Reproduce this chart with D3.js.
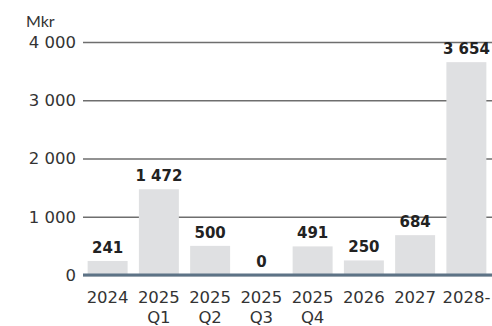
<!DOCTYPE html>
<html>
<head>
<meta charset="utf-8">
<script src="https://cdn.jsdelivr.net/npm/d3@7"></script>
<style>
  body { margin: 0; background: #fff; }
  svg { display: block; }
</style>
</head>
<body>
<div id="chart"></div>
<script>
// data
var periods = ["2024", "2025 Q1", "2025 Q2", "2025 Q3", "2025 Q4", "2026", "2027", "2028-"];
var values = [241, 1472, 500, 0, 491, 250, 684, 3654];
var yTicks = [0, 1000, 2000, 3000, 4000];
var unit = "Mkr";

var W = 492, H = 326;
var margin = {top: 42, bottom: 51, left: 82, right: 0};

var svg = d3.select("#chart").append("svg")
    .attr("width", W)
    .attr("height", H);

var x = d3.scaleBand()
    .domain(periods)
    .range([margin.left, W - margin.right])
    .paddingInner(0.22)
    .paddingOuter(0.11);

var y = d3.scaleLinear()
    .domain([0, 4000])
    .range([H - margin.bottom, margin.top]);

// space as thousands separator
var fmt = function(v) { return d3.format(",")(v).replace(/,/g, " "); };

// unit label
svg.append("text")
    .attr("x", 26)
    .attr("y", 27)
    .attr("font-family", "Lato, sans-serif")
    .attr("font-size", 16)
    .attr("fill", "#333")
    .text(unit);

// y axis with gridlines
var yAxis = svg.append("g")
    .attr("transform", "translate(" + (margin.left + 1) + ",0)")
    .call(d3.axisRight(y).tickValues(yTicks).tickSize(W - margin.left).tickFormat(fmt));
yAxis.select(".domain").remove();
yAxis.selectAll(".tick line")
    .attr("stroke", "#6e6e6e")
    .attr("stroke-width", 1.3);
yAxis.selectAll(".tick text")
    .attr("x", -7)
    .attr("text-anchor", "end")
    .attr("font-family", "'DejaVu Sans', sans-serif")
    .attr("font-size", 16.5)
    .attr("fill", "#333");

// bars
svg.selectAll("rect.bar")
    .data(values)
    .enter().append("rect")
    .attr("class", "bar")
    .attr("x", function(d, i) { return x(periods[i]); })
    .attr("width", x.bandwidth())
    .attr("y", function(d) { return y(d); })
    .attr("height", function(d) { return y(0) - y(d); })
    .attr("fill", "#dfe0e2");

// baseline
svg.append("line")
    .attr("x1", margin.left + 1)
    .attr("x2", W)
    .attr("y1", y(0))
    .attr("y2", y(0))
    .attr("stroke", "#5d7386")
    .attr("stroke-width", 3);

// value labels
svg.selectAll("text.val")
    .data(values)
    .enter().append("text")
    .attr("class", "val")
    .attr("x", function(d, i) { return x(periods[i]) + x.bandwidth() / 2; })
    .attr("y", function(d) { return y(d) - 8; })
    .attr("text-anchor", "middle")
    .attr("font-family", "'DejaVu Sans', sans-serif")
    .attr("font-weight", "bold")
    .attr("font-size", 15)
    .attr("fill", "#222")
    .text(fmt);

// x labels, two lines where needed
var xl = svg.selectAll("text.xl")
    .data(periods)
    .enter().append("text")
    .attr("class", "xl")
    .attr("x", function(d) { return x(d) + x.bandwidth() / 2; })
    .attr("y", 302.5)
    .attr("text-anchor", "middle")
    .attr("font-family", "'DejaVu Sans', sans-serif")
    .attr("font-size", 16.5)
    .attr("fill", "#333");
xl.each(function(d) {
  var parts = d.split(" ");
  var t = d3.select(this);
  parts.forEach(function(p, k) {
    t.append("tspan")
      .attr("x", x(d) + x.bandwidth() / 2)
      .attr("dy", k == 0 ? 0 : 20.5)
      .text(p);
  });
});
</script>
</body>
</html>
